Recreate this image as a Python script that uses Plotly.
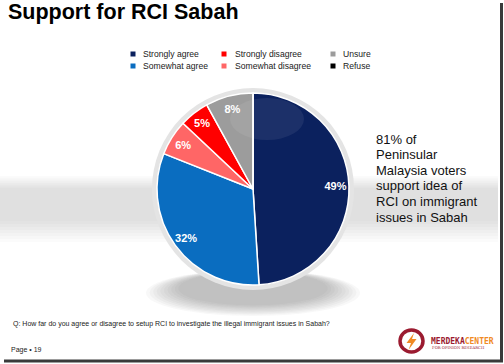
import plotly.graph_objects as go

# ---- data ----
categories = ["Strongly agree", "Somewhat agree", "Somewhat disagree",
              "Strongly disagree", "Unsure", "Refuse"]
values = [49, 32, 6, 5, 8, 0]
colors = ["#0B215E", "#0A6DC0", "#FF6666", "#FF0000", "#9C9C9C", "#000000"]
legend_row1 = ["Strongly agree", "Strongly disagree", "Unsure"]
legend_row2 = ["Somewhat agree", "Somewhat disagree", "Refuse"]
title_text = "Support for RCI Sabah"
side_lines = ["81% of", "Peninsular", "Malaysia voters", "support idea of",
              "RCI on immigrant", "issues in Sabah"]
question = "Q: How far do you agree or disagree to setup RCI to investigate the illegal immigrant issues in Sabah?"
page_text = "Page \u2022 19"

W, H = 504, 364
color_of = dict(zip(categories, colors))
slice_text = [f"{v}%" if v else "" for v in values]

def px(x):
    return x / W

def py(y):
    return 1 - y / H

fig = go.Figure()

# light rim behind the pie
fig.add_trace(go.Pie(values=[1], marker=dict(colors=["#E4E4E4"], line=dict(width=0)),
                     domain=dict(x=[px(152), px(354)], y=[py(291), py(87)]),
                     textinfo="none", hoverinfo="skip", showlegend=False, sort=False))

pie_domain = dict(x=[px(157), px(349)], y=[py(285), py(93)])
fig.add_trace(go.Pie(
    labels=categories, values=values, sort=False, direction="clockwise", rotation=0,
    marker=dict(colors=colors, line=dict(color="white", width=1.5)),
    textinfo="none", domain=pie_domain, showlegend=False, hoverinfo="label+percent"))

# transparent ring carrying the percentage labels near the outer edge
fig.add_trace(go.Pie(
    labels=categories, values=values, sort=False, direction="clockwise", rotation=0,
    hole=0.72, marker=dict(colors=["rgba(0,0,0,0)"] * len(values), line=dict(width=0)),
    text=slice_text, textinfo="text", textposition="inside", insidetextorientation="horizontal",
    textfont=dict(family="Arial, Liberation Sans", size=11, color="white", weight="bold"),
    domain=pie_domain, showlegend=False, hoverinfo="skip"))

shapes = []
# soft grey band behind pie
for i in range(8):
    t = i / 8
    shapes.append(dict(type="rect", xref="paper", yref="paper", layer="below",
                       x0=0, x1=px(498), y0=py(242 - 24*t), y1=py(176 + 14*t),
                       fillcolor="rgba(150,150,150,0.035)", line=dict(width=0)))
# soft shadow under pie
for i in range(10):
    t = i / 10
    shapes.append(dict(type="circle", xref="paper", yref="paper", layer="below",
                       x0=px(146 + 36*t), x1=px(360 - 36*t),
                       y0=py(316 - 12*t), y1=py(270 + 2*t),
                       fillcolor="rgba(70,70,70,0.04)", line=dict(width=0)))
# faint gloss on top of pie
shapes.append(dict(type="circle", xref="paper", yref="paper", layer="above",
                   x0=px(230), x1=px(304), y0=py(140), y1=py(98),
                   fillcolor="rgba(255,255,255,0.07)", line=dict(width=0)))
# legend keys
for names, yy in [(legend_row1, 54), (legend_row2, 66)]:
    for name, xx in zip(names, [133, 224, 333]):
        shapes.append(dict(type="rect", xref="paper", yref="paper",
                           x0=px(xx - 2.5), x1=px(xx + 2.5), y0=py(yy + 2.5), y1=py(yy - 2.5),
                           fillcolor=color_of[name], line=dict(width=0)))
# slide frame edges
shapes.append(dict(type="line", xref="paper", yref="paper", x0=px(501.5), x1=px(501.5),
                   y0=py(361), y1=py(3), line=dict(color="#3a3a3a", width=3)))
shapes.append(dict(type="line", xref="paper", yref="paper", x0=px(4), x1=px(503),
                   y0=py(361), y1=py(361), line=dict(color="#3a3a3a", width=3)))
# logo
shapes.append(dict(type="circle", xref="paper", yref="paper", x0=px(400), x1=px(423),
                   y0=py(352), y1=py(330), line=dict(color="#9B1B30", width=3.5)))
shapes.append(dict(type="path", xref="paper", yref="paper",
                   path=(f"M {px(414)} {py(333)} L {px(406.5)} {py(343)} L {px(411)} {py(343)} "
                         f"L {px(408.5)} {py(350)} L {px(416.5)} {py(339)} L {px(412)} {py(339)} Z"),
                   fillcolor="#F08A24", line=dict(width=0)))

annotations = []
annotations.append(dict(text=f"<b>{title_text}</b>", x=px(6), y=py(12), xref="paper", yref="paper",
                        xanchor="left", yanchor="middle", showarrow=False,
                        font=dict(family="Arial, Liberation Sans", size=21.5, color="#000000")))
legend_font = dict(family="Arial, Liberation Sans", size=8.6, color="#1a1a1a")
for names, yy in [(legend_row1, 54), (legend_row2, 66)]:
    for name, xx in zip(names, [141, 233, 341]):
        annotations.append(dict(text=name, x=px(xx), y=py(yy), xref="paper", yref="paper",
                                xanchor="left", yanchor="middle", showarrow=False, font=legend_font))
for i, line in enumerate(side_lines):
    annotations.append(dict(text=line, x=px(374), y=py(139 + 15.6*i), xref="paper", yref="paper",
                            xanchor="left", yanchor="middle", showarrow=False,
                            font=dict(family="Arial, Liberation Sans", size=13, color="#111111")))
annotations.append(dict(text=question, x=px(11), y=py(324), xref="paper", yref="paper",
                        xanchor="left", yanchor="middle", showarrow=False,
                        font=dict(family="Arial, Liberation Sans", size=7.0, color="#222222")))
annotations.append(dict(text=page_text, x=px(9), y=py(350), xref="paper", yref="paper",
                        xanchor="left", yanchor="middle", showarrow=False,
                        font=dict(family="Arial, Liberation Sans", size=7, color="#222222")))
annotations.append(dict(text="<b>MERDEKA</b><b><span style='color:#F08A24'>CENTER</span></b>",
                        x=px(429), y=py(341.5), xref="paper", yref="paper",
                        xanchor="left", yanchor="middle", showarrow=False,
                        font=dict(family="DejaVu Sans Mono, monospace", size=8, color="#9B1B30")))
annotations.append(dict(text="FOR OPINION RESEARCH",
                        x=px(430), y=py(347.5), xref="paper", yref="paper",
                        xanchor="left", yanchor="middle", showarrow=False,
                        font=dict(family="DejaVu Serif, serif", size=3.8, color="#9B1B30")))

fig.update_layout(
    width=W, height=H, margin=dict(l=0, r=0, t=0, b=0),
    paper_bgcolor="white", plot_bgcolor="white", showlegend=False,
    xaxis=dict(visible=False), yaxis=dict(visible=False),
    shapes=shapes, annotations=annotations,
)

fig.write_html("out.html", config={"displayModeBar": False},
               post_script="document.body.style.margin='0';")
